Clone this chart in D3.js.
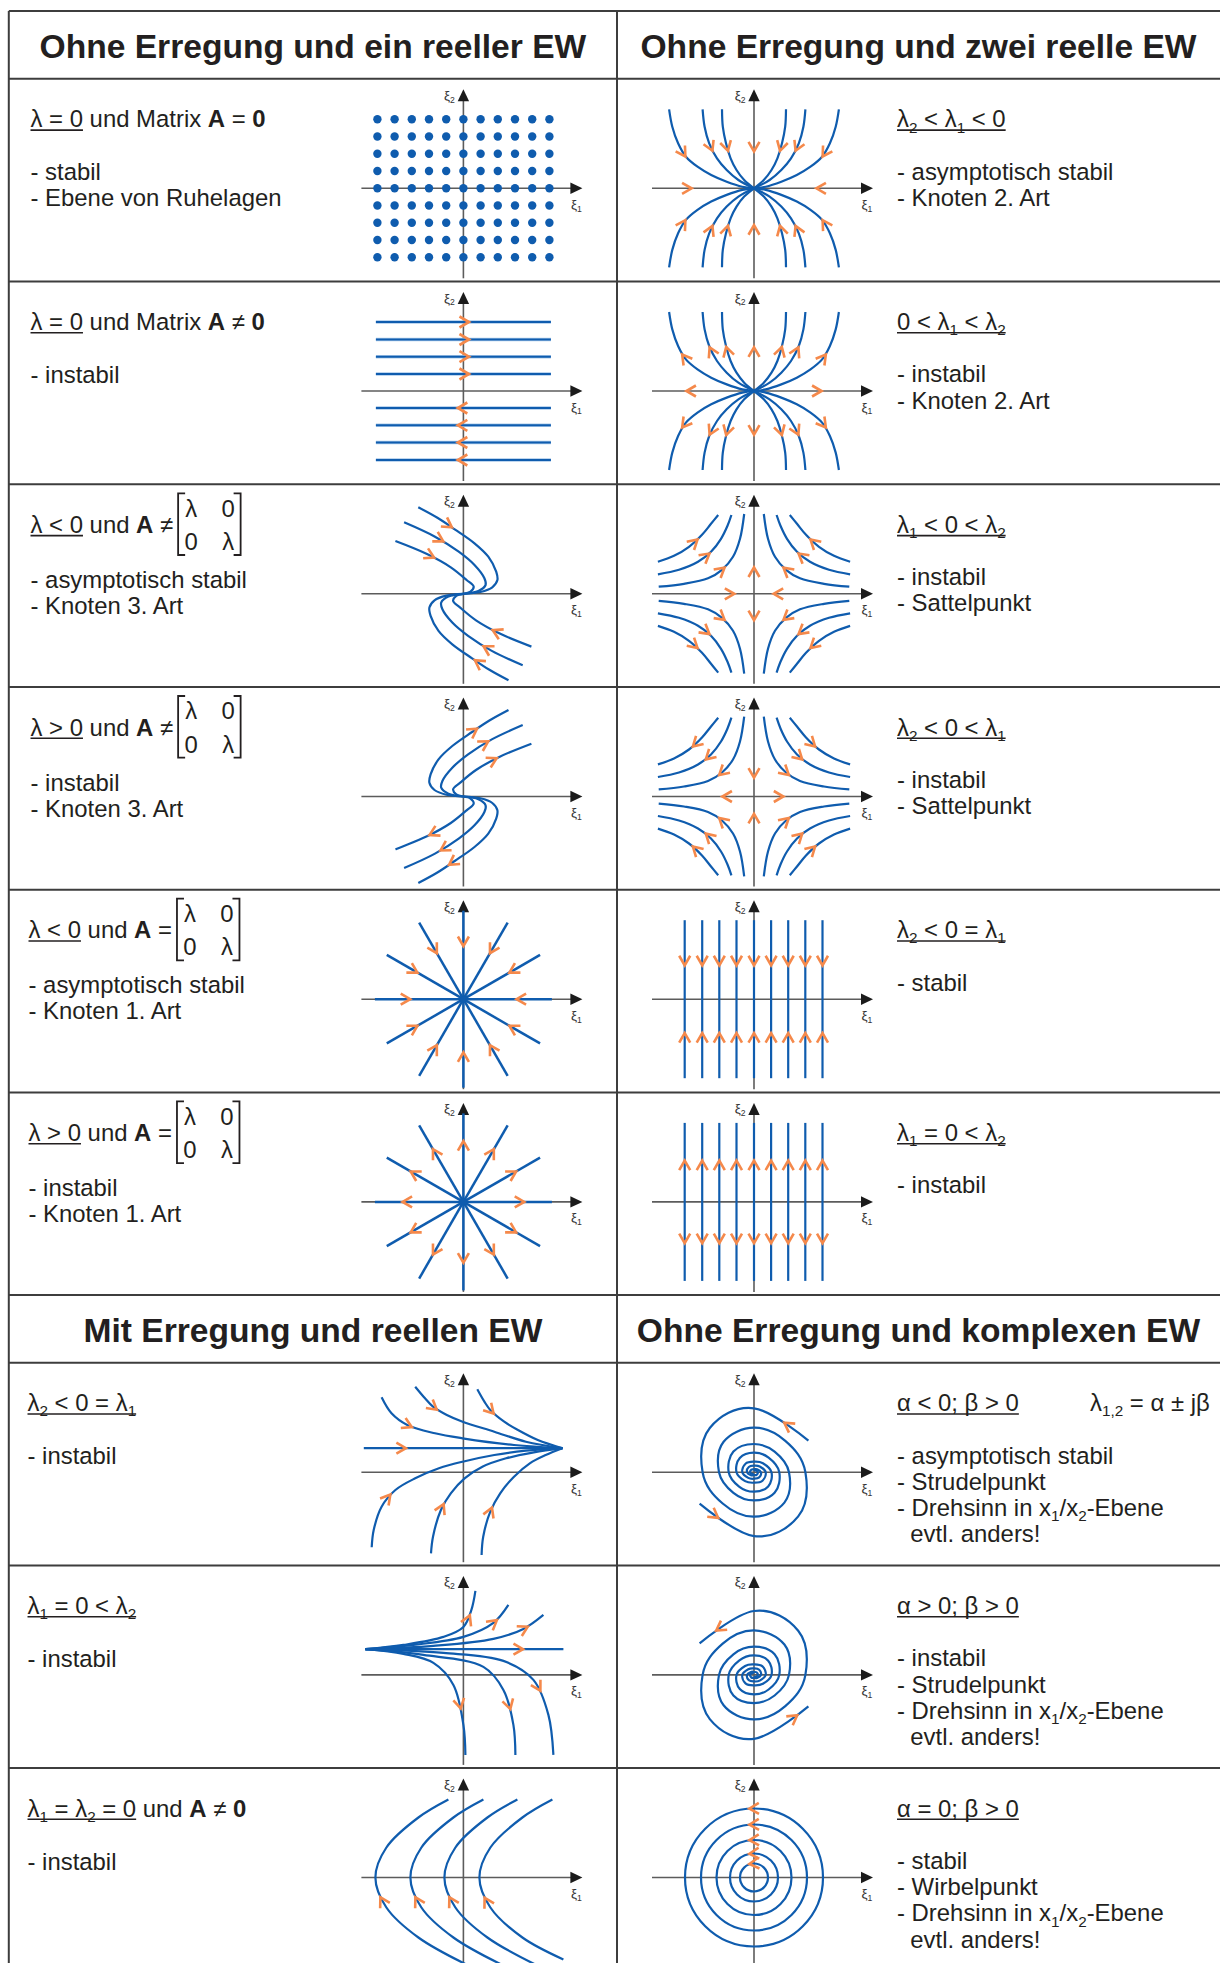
<!DOCTYPE html>
<html lang="de">
<head>
<meta charset="utf-8">
<title>Phasenporträts linearer Systeme 2. Ordnung</title>
<script src="https://cdn.jsdelivr.net/npm/d3@7/dist/d3.min.js"></script>
<style>
  html, body { margin: 0; padding: 0; background: #ffffff; }
  svg { display: block; }
  text { font-family: "Liberation Sans", Arial, Helvetica, sans-serif; fill: #231f20; white-space: pre; }
</style>
</head>
<body>
<svg id="chart" width="1220" height="1963"></svg>
<script>
// ===================== data =====================

const headerTitles = [
  "Ohne Erregung und ein reeller EW",
  "Ohne Erregung und zwei reelle EW",
  "Mit Erregung und reellen EW",
  "Ohne Erregung und komplexen EW"
];

// left column descriptions (label part that is underlined, rest, bullet lines)
const leftCells = [
  { label: "λ = 0", rest: " und Matrix **A** = **0**", lines: ["- stabil", "- Ebene von Ruhelagen"] },
  { label: "λ = 0", rest: " und Matrix **A** ≠ **0**", lines: ["- instabil"] },
  { label: "λ < 0", rest: " und **A** ≠", matrix: true, lines: ["- asymptotisch stabil", "- Knoten 3. Art"] },
  { label: "λ > 0", rest: " und **A** ≠", matrix: true, lines: ["- instabil", "- Knoten 3. Art"] },
  { label: "λ < 0", rest: " und **A** =", matrix: true, lines: ["- asymptotisch stabil", "- Knoten 1. Art"] },
  { label: "λ > 0", rest: " und **A** =", matrix: true, lines: ["- instabil", "- Knoten 1. Art"] },
  { label: "λ_{2} < 0 = λ_{1}", lines: ["- instabil"] },
  { label: "λ_{1} = 0 < λ_{2}", lines: ["- instabil"] },
  { label: "λ_{1} = λ_{2} = 0", rest: " und **A** ≠ **0**", lines: ["- instabil"] }
];

// right column descriptions
const rightCells = [
  { label: "λ_{2} < λ_{1} < 0", lines: ["- asymptotisch stabil", "- Knoten 2. Art"] },
  { label: "0 < λ_{1} < λ_{2}", lines: ["- instabil", "- Knoten 2. Art"] },
  { label: "λ_{1} < 0 < λ_{2}", lines: ["- instabil", "- Sattelpunkt"] },
  { label: "λ_{2} < 0 < λ_{1}", lines: ["- instabil", "- Sattelpunkt"] },
  { label: "λ_{2} < 0 = λ_{1}", lines: ["- stabil"] },
  { label: "λ_{1} = 0 < λ_{2}", lines: ["- instabil"] },
  { label: "α < 0; β > 0", extra: "λ_{1,2} = α ± jβ", lines: ["- asymptotisch stabil", "- Strudelpunkt", "- Drehsinn in x_{1}/x_{2}-Ebene", "  evtl. anders!"] },
  { label: "α > 0; β > 0", lines: ["- instabil", "- Strudelpunkt", "- Drehsinn in x_{1}/x_{2}-Ebene", "  evtl. anders!"] },
  { label: "α = 0; β > 0", lines: ["- stabil", "- Wirbelpunkt", "- Drehsinn in x_{1}/x_{2}-Ebene", "  evtl. anders!"] }
];

// --- plane of equilibria (A = 0)
const restGridX = [-0.86, -0.688, -0.516, -0.344, -0.172, 0, 0.172, 0.344, 0.516, 0.688, 0.86];
const restGridY = [0.69, 0.5175, 0.345, 0.1725, 0, -0.1725, -0.345, -0.5175, -0.69];

// --- shear flow (λ = 0, A ≠ 0)
const shearLevels = [0.69, 0.515, 0.343, 0.17, -0.17, -0.343, -0.515, -0.69];
const shearExtent = [-0.875, 0.875];
const shearArrowX = [0.012, -0.008];

// --- Knoten 3. Art: upper branches, running into the origin
const improperUpper = [
  [[-0.451, 0.865], [-0.26, 0.76], [-0.087, 0.645], [0.111, 0.505], [0.249, 0.371], [0.328, 0.221], [0.34, 0.138], [0.289, 0.065], [0.17, 0.018], [0, 0]],
  [[-0.593, 0.715], [-0.284, 0.571], [-0.047, 0.421], [0.111, 0.288], [0.21, 0.155], [0.222, 0.088], [0.15, 0.028], [0, 0]],
  [[-0.68, 0.528], [-0.364, 0.398], [-0.126, 0.265], [0.032, 0.138], [0.103, 0.071], [0.071, 0.021], [0, 0]]
];
const improperStableArrows = [[-0.166, 0.671], [-0.245, 0.538], [-0.324, 0.398]];
const improperUnstableArrows = [[0.091, 0.665], [0.21, 0.522], [0.289, 0.365], [-0.284, -0.392], [-0.186, -0.518], [-0.107, -0.652]];

// --- Knoten 1. Art (star)
const starAngles = [0, 30, 60, 90, 120, 150, 180, 210, 240, 270, 300, 330];
const starLength = 0.885;
const starStableArrowR = 0.58;
const starUnstableArrowR = 0.56;

// --- Knoten 2. Art: upper-left quadrant, running into the origin
const node2Quadrant = [
  [[-0.849, 0.79], [-0.817, 0.616], [-0.759, 0.45], [-0.681, 0.316], [-0.565, 0.216], [-0.428, 0.133], [-0.273, 0.066], [-0.117, 0.016], [0, 0]],
  [[-0.514, 0.79], [-0.494, 0.616], [-0.448, 0.45], [-0.37, 0.3], [-0.273, 0.183], [-0.156, 0.083], [0, 0]],
  [[-0.32, 0.79], [-0.312, 0.616], [-0.28, 0.45], [-0.234, 0.3], [-0.175, 0.183], [-0.098, 0.083], [0, 0]]
];
const node2StableArrows = [[-0.72, 0.35], [-0.448, 0.416], [-0.293, 0.416]];
const node2StableAxisArrows = [[0, 0.416], [0, -0.416], [-0.67, 0], [0.67, 0]];
const node2UnstableArrows = [[-0.689, 0.327], [-0.436, 0.393], [-0.284, 0.393]];
const node2UnstableAxisArrows = [[0, 0.393], [0, -0.393], [-0.63, 0], [0.63, 0]];

// --- saddle: upper-left quadrant, from the ξ1 side towards the ξ2 side
const saddleQuadrant = [
  [[-0.961, 0.321], [-0.8, 0.38], [-0.65, 0.47], [-0.52, 0.59], [-0.43, 0.7], [-0.358, 0.788]],
  [[-0.961, 0.195], [-0.75, 0.24], [-0.56, 0.32], [-0.43, 0.42], [-0.33, 0.55], [-0.265, 0.68], [-0.226, 0.788]],
  [[-0.953, 0.071], [-0.7, 0.1], [-0.46, 0.155], [-0.32, 0.24], [-0.21, 0.37], [-0.14, 0.55], [-0.098, 0.798]]
];
const saddleArrowsA = [[-0.603, 0.521], [-0.487, 0.378], [-0.339, 0.238]];
const saddleAxisArrowsA = [[-0.24, 0], [0.24, 0], [0, 0.22], [0, -0.22]];
const saddleArrowsB = [[-0.565, 0.522], [-0.436, 0.388], [-0.312, 0.242]];
const saddleAxisArrowsB = [[-0.27, 0], [0.25, 0], [0, 0.232], [0, -0.218]];

// --- parallel lines (one eigenvalue zero)
const lineFieldX = [-0.693, -0.518, -0.347, -0.175, 0, 0.171, 0.342, 0.513, 0.685];
const lineFieldExtent = 0.79;
const lineFieldStableArrowY = 0.385;
const lineFieldUnstableArrowY = 0.37;

// --- with excitation, λ2 < 0 = λ1 (trajectories towards the point on the right)
const excitedA = [
  [[-0.996, 0.24], [0.99, 0.24]],
  [[-0.818, 0.749], [-0.719, 0.589], [-0.561, 0.472], [-0.284, 0.389], [-0.008, 0.339], [0.506, 0.272], [0.99, 0.24]],
  [[-0.482, 0.855], [-0.384, 0.739], [-0.304, 0.655], [-0.166, 0.572], [-0.008, 0.505], [0.309, 0.405], [0.625, 0.305], [0.99, 0.24]],
  [[0.139, 0.829], [0.21, 0.705], [0.269, 0.622], [0.408, 0.505], [0.546, 0.422], [0.744, 0.322], [0.99, 0.24]],
  [[-0.917, -0.751], [-0.897, -0.578], [-0.818, -0.345], [-0.68, -0.178], [-0.482, -0.061], [-0.245, 0.039], [-0.008, 0.105], [0.309, 0.172], [0.625, 0.215], [0.99, 0.24]],
  [[-0.324, -0.811], [-0.304, -0.645], [-0.225, -0.378], [-0.126, -0.211], [0.012, -0.061], [0.19, 0.055], [0.427, 0.139], [0.704, 0.199], [0.99, 0.24]],
  [[0.182, -0.828], [0.198, -0.645], [0.269, -0.395], [0.368, -0.211], [0.506, -0.045], [0.664, 0.089], [0.823, 0.172], [0.99, 0.24]]
];
const excitedAArrows = [[-0.621, 0.24], [-0.561, 0.472], [-0.304, 0.655], [0.269, 0.622], [-0.759, -0.261], [-0.225, -0.361], [0.269, -0.395]];

// --- with excitation, λ1 = 0 < λ2 (trajectories leaving the point on the left)
const excitedB = [
  [[-0.98, 0.257], [1.0, 0.257]],
  [[-0.98, 0.257], [-0.6, 0.3], [-0.2, 0.38], [0.0, 0.48], [0.08, 0.65], [0.12, 0.84]],
  [[-0.98, 0.257], [-0.5, 0.3], [0.0, 0.38], [0.3, 0.52], [0.45, 0.7]],
  [[-0.98, 0.257], [-0.3, 0.29], [0.3, 0.36], [0.6, 0.46], [0.8, 0.6]],
  [[-0.98, 0.257], [-0.6, 0.21], [-0.3, 0.12], [-0.1, -0.1], [0.0, -0.5], [0.02, -0.8]],
  [[-0.98, 0.257], [-0.4, 0.2], [0.2, 0.08], [0.4, -0.15], [0.5, -0.5], [0.52, -0.8]],
  [[-0.98, 0.257], [-0.2, 0.22], [0.4, 0.14], [0.7, -0.05], [0.85, -0.4], [0.9, -0.8]]
];
const excitedBArrows = [[0.55, 0.257], [0.05, 0.55], [0.3, 0.52], [0.6, 0.46], [-0.08, -0.3], [0.44, -0.3], [0.74, -0.12]];

// --- with excitation, λ1 = λ2 = 0: parabolas
const parabolas = [
  [[0.09, -0.9], [-0.45, -0.6], [-0.77, -0.3], [-0.88, 0], [-0.77, 0.3], [-0.45, 0.6], [-0.15, 0.78]],
  [[0.44, -0.9], [-0.1, -0.6], [-0.42, -0.3], [-0.53, 0], [-0.42, 0.3], [-0.1, 0.6], [0.2, 0.78]],
  [[0.78, -0.9], [0.24, -0.6], [-0.08, -0.3], [-0.19, 0], [-0.08, 0.3], [0.24, 0.6], [0.54, 0.78]],
  [[1.0, -0.82], [0.59, -0.6], [0.27, -0.3], [0.16, 0], [0.27, 0.3], [0.59, 0.6], [0.89, 0.78]]
];
const parabolaArrows = [[-0.8, -0.235], [-0.46, -0.235], [-0.11, -0.235], [0.24, -0.235]];

// --- Strudelpunkt (stable): one arm, eight points per turn, counter-clockwise inwards;
//     the second arm is its point reflection
const focusArm = [
  [0.544, 0.315], [0, 0.639], [-0.442, 0.442], [-0.514, 0], [-0.313, -0.313], [0, -0.445],
  [0.304, -0.304], [0.35, 0], [0.206, 0.206], [0, 0.282], [-0.206, 0.206], [-0.253, 0],
  [-0.146, -0.146], [0, -0.195], [0.142, -0.142], [0.175, 0], [0.089, 0.089], [0, 0.105],
  [-0.085, 0.085], [-0.117, 0], [-0.057, -0.057], [0, -0.065], [0.052, -0.052], [0.07, 0],
  [0.03, 0.03], [0, 0.029], [-0.026, 0.026], [-0.039, 0], [-0.018, -0.018], [0, -0.015]
];
const focusStableArrows = [[0.369, 0.505], [-0.428, -0.478]];
const focusUnstableArrows = [[-0.369, 0.505], [0.428, -0.478]];

// --- Wirbelpunkt: closed orbits
const centerRadii = [0.69, 0.53, 0.375, 0.24, 0.14];

// ===================== layout & style =====================

const tableX = [8.8, 617];
const tableY = [11, 78.8, 281.5, 484.3, 687, 889.7, 1092.4, 1295, 1362.7, 1565.4, 1768];
const headerBands = [[11, 78.8], [1295, 1362.7]];
const rowTop = [78.8, 281.5, 484.3, 687, 889.7, 1092.4, 1362.7, 1565.4, 1768];
const colCenter = [312.9, 918.5];
const originX = [463.4, 754];
const originDY = 109.5;
const textXLeft = [30.5, 30.5, 30.5, 30.5, 28.5, 28.5, 27.5, 27.5, 27.5];
const textXRight = 897;
const bodySize = 23.9;

const COL = {
  blue: "#0f5cae", halo: "#a9c9ea", orange: "#f5894b",
  axis: "#5c5c5c", head: "#1b1b1b", grid: "#3d3d3d", ink: "#231f20"
};

const svg = d3.select("#chart");
svg.append("rect").attr("width", 1220).attr("height", 1963).attr("fill", "#ffffff");

// ===================== helpers =====================

function richText(g, x, y, str, size) {
  const fs = size || bodySize;
  const t = g.append("text").attr("x", x).attr("y", y)
    .attr("xml:space", "preserve").style("font-size", fs + "px");
  const tokens = str.split(/(_\{[^}]*\}|\*\*[^*]+\*\*)/).filter(s => s.length);
  let shifted = false;
  tokens.forEach(tok => {
    if (tok.startsWith("_{")) {
      t.append("tspan").attr("dy", shifted ? 0 : fs * 0.22)
        .style("font-size", (fs * 0.64) + "px").text(tok.slice(2, -1));
      shifted = true;
    } else {
      const ts = t.append("tspan");
      if (shifted) { ts.attr("dy", -fs * 0.22); shifted = false; }
      if (tok.startsWith("**")) ts.style("font-weight", "bold").text(tok.slice(2, -2));
      else ts.text(tok);
    }
  });
  return t;
}

function underline(g, x, y, len) {
  g.append("line").attr("x1", x).attr("x2", x + len)
    .attr("y1", y + 2.8).attr("y2", y + 2.8)
    .attr("stroke", COL.ink).attr("stroke-width", 1.6);
}

function matrix(g, x, top) {
  const yt = top + 9, yb = top + 70.7, xr = x + 62.5;
  const br = g.append("g").attr("fill", "none").attr("stroke", COL.ink).attr("stroke-width", 1.8);
  br.append("path").attr("d", `M${x + 7},${yt}H${x}V${yb}H${x + 7}`);
  br.append("path").attr("d", `M${xr - 7},${yt}H${xr}V${yb}H${xr - 7}`);
  [["λ", "0"], ["0", "λ"]].forEach((row, i) => {
    row.forEach((v, j) => {
      g.append("text").attr("x", x + (j ? 50 : 13)).attr("y", top + (i ? 65.7 : 32.4))
        .attr("text-anchor", "middle").style("font-size", bodySize + "px").text(v);
    });
  });
}

const curveTypes = {
  smooth: d3.curveCatmullRom.alpha(0.5),
  linear: d3.curveLinear,
  spiral: d3.curveCardinal.tension(-0.125),
  ring: d3.curveCardinalClosed.tension(-0.657)
};

const mir = (pts, sx, sy) => pts.map(p => [p[0] * sx, p[1] * sy]);
const rev = pts => pts.slice().reverse();
const Q = [[1, 1], [-1, 1], [1, -1], [-1, -1]];
const quad = arr => Q.flatMap(([sx, sy]) => arr.map(p => [p[0] * sx, p[1] * sy]));
function axisGuides(h, v) {
  const hs = [[[-1, 0], [0, 0]], [[1, 0], [0, 0]]];
  const vs = [[[0, 1], [0, 0]], [[0, -1], [0, 0]]];
  return (h === "in" ? hs : hs.map(rev)).concat(v === "in" ? vs : vs.map(rev));
}

function chevron(g, cx, cy, dx, dy) {
  const L = 11, a = Math.PI / 6;
  const tx = cx + dx * 4.6, ty = cy + dy * 4.6;
  const arm = s => {
    const c = Math.cos(s * a), sn = Math.sin(s * a);
    const rx = dx * c - dy * sn, ry = dx * sn + dy * c;
    return [tx - L * rx, ty - L * ry];
  };
  const p1 = arm(1), p2 = arm(-1);
  g.append("path").attr("d", `M${p1[0]},${p1[1]}L${tx},${ty}L${p2[0]},${p2[1]}`)
    .attr("fill", "none").attr("stroke", COL.orange).attr("stroke-width", 2.6)
    .attr("stroke-linejoin", "miter").attr("stroke-linecap", "butt");
}

// ===================== phase portrait panel =====================

function drawPanel(spec) {
  const ox = originX[spec.col], oy = rowTop[spec.row] + originDY;
  const x = d3.scaleLinear().domain([-1, 1]).range([ox - 100, ox + 100]);
  const y = d3.scaleLinear().domain([-1, 1]).range([oy + 100, oy - 100]);
  const g = svg.append("g");

  // axes
  const ax = g.append("g");
  ax.append("line").attr("x1", x(-1.02)).attr("x2", x(1.08)).attr("y1", y(0)).attr("y2", y(0))
    .attr("stroke", COL.axis).attr("stroke-width", 1.6);
  ax.append("line").attr("x1", x(0)).attr("x2", x(0)).attr("y1", y(-0.9)).attr("y2", y(0.88))
    .attr("stroke", COL.axis).attr("stroke-width", 1.6);
  ax.append("path").attr("fill", COL.head)
    .attr("d", `M${x(1.19)},${y(0)}L${x(1.07)},${y(0) - 5.7}L${x(1.07)},${y(0) + 5.7}Z`);
  ax.append("path").attr("fill", COL.head)
    .attr("d", `M${x(0)},${y(0.99)}L${x(0) - 5.7},${y(0.87)}L${x(0) + 5.7},${y(0.87)}Z`);
  richText(ax, x(-0.085), y(0.885), "ξ_{2}", 13.5).attr("text-anchor", "end").style("fill", "#333");
  richText(ax, x(1.075), y(-0.205), "ξ_{1}", 13.5).style("fill", "#333");

  // equilibrium dots
  if (spec.dots) {
    g.append("g").selectAll("circle").data(spec.dots).join("circle")
      .attr("cx", d => x(d[0])).attr("cy", d => y(d[1])).attr("r", 4.2).attr("fill", COL.blue);
  }

  const line = t => d3.line().x(d => x(d[0])).y(d => y(d[1])).curve(curveTypes[t || "smooth"]);
  const measured = [];
  (spec.paths || []).forEach(p => {
    if (p.halo) {
      g.append("path").attr("d", line(p.curve)(p.pts)).attr("fill", "none")
        .attr("stroke", COL.halo).attr("stroke-width", 3.6);
    }
    const el = g.append("path").attr("d", line(p.curve)(p.pts)).attr("fill", "none")
      .attr("stroke", COL.blue).attr("stroke-width", p.width || 2.2)
      .attr("stroke-linecap", "butt");
    measured.push(el.node());
  });
  if (spec.hub) {
    g.append("circle").attr("cx", x(0)).attr("cy", y(0)).attr("r", 3.2).attr("fill", COL.blue);
  }
  (spec.guides || []).forEach(pts => {
    const el = g.append("path").attr("d", line("linear")(pts)).attr("fill", "none").attr("stroke", "none");
    measured.push(el.node());
  });

  // sample every trajectory so that arrows follow the local flow direction
  const samples = measured.map(node => {
    const L = node.getTotalLength(), out = [];
    for (let s = 0; s <= L; s += 0.75) { const q = node.getPointAtLength(s); out.push([q.x, q.y]); }
    return out;
  });
  (spec.arrows || []).forEach(([ax0, ay0]) => {
    const px = x(ax0), py = y(ay0);
    let best = null, bd = Infinity;
    samples.forEach(S => S.forEach((q, i) => {
      const d = (q[0] - px) ** 2 + (q[1] - py) ** 2;
      if (d < bd) { bd = d; best = { S, i }; }
    }));
    if (!best) return;
    const S = best.S, i = best.i;
    const a = S[Math.max(0, i - 4)], b = S[Math.min(S.length - 1, i + 4)];
    let dx = b[0] - a[0], dy = b[1] - a[1];
    const n = Math.hypot(dx, dy) || 1;
    chevron(g, S[i][0], S[i][1], dx / n, dy / n);
  });
}

// ===================== panels =====================

const rad = a => a * Math.PI / 180;
const rayEnds = starAngles.map(a => [Math.cos(rad(a)) * starLength, Math.sin(rad(a)) * starLength]);
const rayPoint = r => starAngles.map(a => [Math.cos(rad(a)) * r, Math.sin(rad(a)) * r]);

const specs = [
  { row: 0, col: 0, dots: d3.cross(restGridX, restGridY) },
  { row: 1, col: 0,
    paths: shearLevels.map(v => ({ pts: v > 0 ? [[shearExtent[0], v], [shearExtent[1], v]] : [[shearExtent[1], v], [shearExtent[0], v]], curve: "linear", halo: true, width: 2 })),
    arrows: shearLevels.map(v => [v > 0 ? shearArrowX[0] : shearArrowX[1], v]) },
  { row: 2, col: 0,
    paths: improperUpper.flatMap(c => [{ pts: c }, { pts: mir(c, -1, -1) }]),
    arrows: improperStableArrows.concat(mir(improperStableArrows, -1, -1)) },
  { row: 3, col: 0,
    paths: improperUpper.flatMap(c => [{ pts: rev(mir(c, -1, 1)) }, { pts: rev(mir(c, 1, -1)) }]),
    arrows: improperUnstableArrows },
  { row: 4, col: 0, hub: true,
    paths: rayEnds.map(e => ({ pts: [e, [0, 0]], curve: "linear", width: 2.5 })),
    arrows: rayPoint(starStableArrowR) },
  { row: 5, col: 0, hub: true,
    paths: rayEnds.map(e => ({ pts: [[0, 0], e], curve: "linear", width: 2.5 })),
    arrows: rayPoint(starUnstableArrowR) },
  { row: 6, col: 0, paths: excitedA.map(c => ({ pts: c, curve: c.length === 2 ? "linear" : "smooth" })), arrows: excitedAArrows },
  { row: 7, col: 0, paths: excitedB.map(c => ({ pts: c, curve: c.length === 2 ? "linear" : "smooth" })), arrows: excitedBArrows },
  { row: 8, col: 0, paths: parabolas.map(c => ({ pts: c })), arrows: parabolaArrows },

  { row: 0, col: 1,
    paths: Q.flatMap(([sx, sy]) => node2Quadrant.map(c => ({ pts: mir(c, sx, sy) }))),
    guides: axisGuides("in", "in"),
    arrows: quad(node2StableArrows).concat(node2StableAxisArrows) },
  { row: 1, col: 1,
    paths: Q.flatMap(([sx, sy]) => node2Quadrant.map(c => ({ pts: rev(mir(c, sx, sy)) }))),
    guides: axisGuides("out", "out"),
    arrows: quad(node2UnstableArrows).concat(node2UnstableAxisArrows) },
  { row: 2, col: 1,
    paths: Q.flatMap(([sx, sy]) => saddleQuadrant.map(c => ({ pts: mir(c, sx, sy) }))),
    guides: axisGuides("in", "out"),
    arrows: quad(saddleArrowsA).concat(saddleAxisArrowsA) },
  { row: 3, col: 1,
    paths: Q.flatMap(([sx, sy]) => saddleQuadrant.map(c => ({ pts: rev(mir(c, sx, sy)) }))),
    guides: axisGuides("out", "in"),
    arrows: quad(saddleArrowsB).concat(saddleAxisArrowsB) },
  { row: 4, col: 1,
    paths: lineFieldX.flatMap(v => [{ pts: [[v, lineFieldExtent], [v, 0]], curve: "linear" }, { pts: [[v, -lineFieldExtent], [v, 0]], curve: "linear" }]),
    arrows: lineFieldX.flatMap(v => [[v, lineFieldStableArrowY], [v, -lineFieldStableArrowY]]) },
  { row: 5, col: 1,
    paths: lineFieldX.flatMap(v => [{ pts: [[v, 0], [v, lineFieldExtent]], curve: "linear" }, { pts: [[v, 0], [v, -lineFieldExtent]], curve: "linear" }]),
    arrows: lineFieldX.flatMap(v => [[v, lineFieldUnstableArrowY], [v, -lineFieldUnstableArrowY]]) },
  { row: 6, col: 1,
    paths: [{ pts: focusArm, curve: "spiral" }, { pts: mir(focusArm, -1, -1), curve: "spiral" }],
    arrows: focusStableArrows },
  { row: 7, col: 1,
    paths: [{ pts: rev(mir(focusArm, -1, 1)), curve: "spiral" }, { pts: rev(mir(focusArm, 1, -1)), curve: "spiral" }],
    arrows: focusUnstableArrows },
  { row: 8, col: 1,
    paths: centerRadii.map(r => ({ pts: [[r, 0], [0, r], [-r, 0], [0, -r]], curve: "ring" })),
    arrows: centerRadii.map(r => [0, r]) }
];

// ===================== table =====================

const grid = svg.append("g").attr("stroke", COL.grid).attr("stroke-width", 2);
tableY.forEach(v => grid.append("line").attr("x1", tableX[0]).attr("x2", 1220).attr("y1", v).attr("y2", v));
tableX.forEach(v => grid.append("line").attr("x1", v).attr("x2", v).attr("y1", tableY[0]).attr("y2", 1963));

// headers
headerBands.forEach((band, bi) => {
  [0, 1].forEach(col => {
    svg.append("text").attr("x", colCenter[col]).attr("y", band[0] + 47)
      .attr("text-anchor", "middle").style("font-size", "33.6px").style("font-weight", "bold")
      .text(headerTitles[bi * 2 + col]);
  });
});

// cell texts
const txt = svg.append("g");
leftCells.forEach((c, i) => {
  const top = rowTop[i], x0 = textXLeft[i];
  const lab = richText(txt, x0, top + 48.5, c.label);
  const w = lab.node().getComputedTextLength();
  underline(txt, x0, top + 48.5, w);
  let end = x0 + w;
  if (c.rest) {
    const r = richText(txt, end, top + 48.5, c.rest);
    end += r.node().getComputedTextLength();
  }
  if (c.matrix) matrix(txt, end + 5, top);
  const off = c.matrix ? 2 : 0;
  c.lines.forEach((l, k) => richText(txt, x0, top + 101.5 + off + k * 26, l));
});
rightCells.forEach((c, i) => {
  const top = rowTop[i];
  const lab = richText(txt, textXRight, top + 48.5, c.label);
  underline(txt, textXRight, top + 48.5, lab.node().getComputedTextLength());
  if (c.extra) richText(txt, 1090, top + 48.5, c.extra);
  c.lines.forEach((l, k) => richText(txt, textXRight, top + 100.8 + k * 26.3, l));
});

specs.forEach(drawPanel);
</script>
</body>
</html>
